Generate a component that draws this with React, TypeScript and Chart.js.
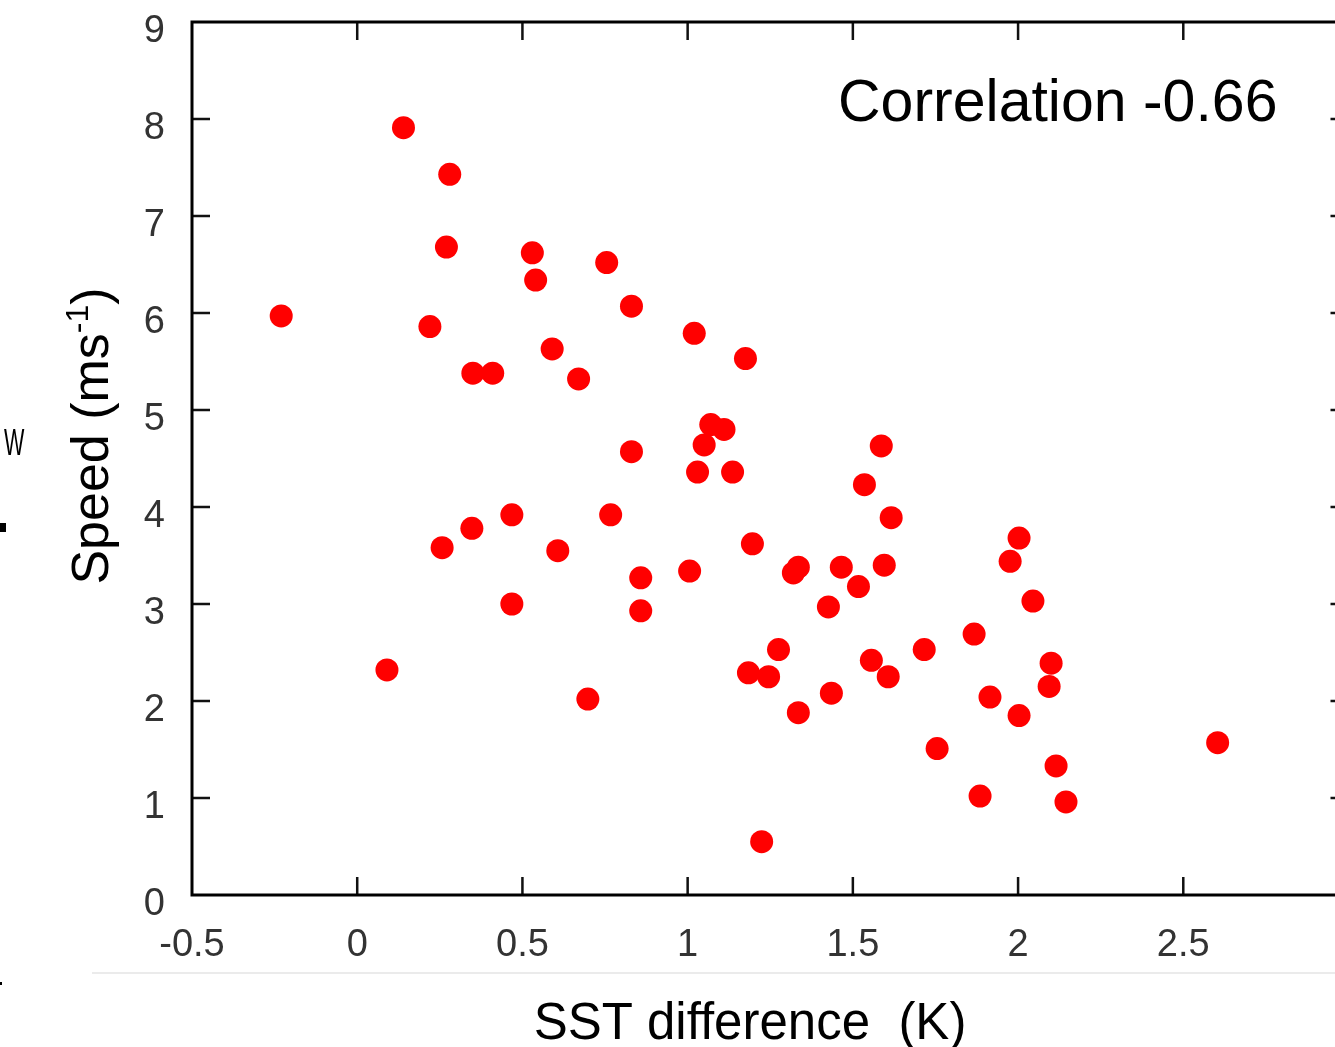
import React, { useEffect, useRef } from "react";
import { Chart, registerables } from "chart.js";

Chart.register(...registerables);

const sstDiff: number[] = [
  -0.23, 0.14, 0.28, 0.27, 0.22, 0.35, 0.41, 0.53, 0.54, 0.59, 0.67, 0.755, 0.83, 1.02, 1.175,
  0.83, 1.07, 1.11, 1.05, 1.03, 1.136, 0.257, 0.347, 0.468, 0.607, 0.767, 0.468, 0.858, 0.858,
  1.006, 1.196, 0.09, 0.698, 1.184, 1.245, 1.275, 1.32, 1.335, 1.335, 1.224, 1.426, 1.465, 1.435,
  1.517, 1.535, 1.586, 1.616, 1.595, 1.556, 1.607, 1.716, 1.755, 1.867, 1.885, 1.915, 1.976,
  2.003, 2.045, 2.003, 2.1, 2.094, 2.115, 2.145, 2.604,
];

const speed: number[] = [
  5.97, 7.91, 7.43, 6.68, 5.86, 5.38, 5.38, 6.62, 6.34, 5.63, 5.32, 6.52, 6.07, 5.79, 5.53,
  4.57, 4.85, 4.8, 4.64, 4.36, 4.36, 3.58, 3.78, 3.92, 3.55, 3.92, 3.0, 3.27, 2.93,
  3.34, 3.62, 2.32, 2.02, 2.29, 2.25, 2.53, 3.32, 3.38, 1.88, 0.55, 2.97, 3.38, 2.08,
  3.18, 4.23, 4.63, 3.89, 3.4, 2.42, 2.25, 2.53, 1.51, 2.69, 1.02, 2.04, 3.44,
  3.68, 3.03, 1.85, 2.39, 2.15, 1.33, 0.96, 1.57,
];

const xTicks: number[] = [-0.5, 0, 0.5, 1, 1.5, 2, 2.5, 3];
const yTicks: number[] = [0, 1, 2, 3, 4, 5, 6, 7, 8, 9];

const xTitle = "SST difference  (K)";
const yTitleMain = "Speed (ms";
const yTitleSup = "-1";
const yTitleEnd = ")";
const corrText = "Correlation -0.66";
const sideLetter = "W";

const FONT = "'Liberation Sans', Arial, Helvetica, sans-serif";

const framePlugin = {
  id: "framePlugin",
  afterDraw(chart: any) {
    const ctx: CanvasRenderingContext2D = chart.ctx;
    const { left, right, top, bottom } = chart.chartArea;
    const xs = chart.scales.x;
    const ys = chart.scales.y;
    ctx.save();
    // inward ticks
    ctx.strokeStyle = "#111";
    ctx.lineWidth = 2.5;
    const tl = 18;
    ctx.beginPath();
    xTicks.forEach((v) => {
      const px = xs.getPixelForValue(v);
      if (px <= left + 2 || px >= right - 2) return;
      ctx.moveTo(px, bottom);
      ctx.lineTo(px, bottom - tl);
      ctx.moveTo(px, top);
      ctx.lineTo(px, top + tl);
    });
    yTicks.forEach((v) => {
      const py = ys.getPixelForValue(v);
      if (py <= top + 2 || py >= bottom - 2) return;
      ctx.moveTo(left, py);
      ctx.lineTo(left + tl, py);
      ctx.moveTo(right, py);
      ctx.lineTo(right - tl, py);
    });
    ctx.stroke();
    // frame
    ctx.strokeStyle = "#000";
    ctx.lineWidth = 3;
    ctx.strokeRect(left, top, right - left, bottom - top);

    // light separator line
    ctx.strokeStyle = "#e4e4e4";
    ctx.lineWidth = 1.5;
    ctx.beginPath();
    ctx.moveTo(92, 973);
    ctx.lineTo(1360, 973);
    ctx.stroke();

    // correlation annotation
    ctx.fillStyle = "#000";
    ctx.textBaseline = "alphabetic";
    ctx.textAlign = "left";
    ctx.font = `59px ${FONT}`;
    ctx.fillText(corrText, 838, 121);

    // x title
    ctx.font = `51px ${FONT}`;
    ctx.textAlign = "center";
    ctx.fillText(xTitle, 750, 1039);

    // y title (rotated, with superscript)
    ctx.save();
    ctx.translate(108, 436);
    ctx.rotate(-Math.PI / 2);
    ctx.textAlign = "left";
    const mainFont = `52px ${FONT}`;
    const supFont = `32px ${FONT}`;
    ctx.font = mainFont;
    const w1 = ctx.measureText(yTitleMain).width;
    const w3 = ctx.measureText(yTitleEnd).width;
    ctx.font = supFont;
    const w2 = ctx.measureText(yTitleSup).width;
    const total = w1 + w2 + w3;
    let x0 = -total / 2;
    ctx.font = mainFont;
    ctx.fillText(yTitleMain, x0, 0);
    x0 += w1;
    ctx.font = supFont;
    ctx.fillText(yTitleSup, x0, -20);
    x0 += w2;
    ctx.font = mainFont;
    ctx.fillText(yTitleEnd, x0, 0);
    ctx.restore();

    // cropped fragments at left edge
    ctx.save();
    ctx.translate(4, 455);
    ctx.scale(0.6, 1);
    ctx.font = `36px ${FONT}`;
    ctx.textAlign = "left";
    ctx.fillText(sideLetter, 0, 0);
    ctx.restore();
    ctx.fillStyle = "#000";
    ctx.fillRect(0, 523, 6, 9);
    ctx.fillRect(0, 982, 2, 3);
    ctx.restore();
  },
};

export default function App() {
  const ref = useRef<HTMLCanvasElement | null>(null);

  useEffect(() => {
    if (!ref.current) return;
    const points = sstDiff.map((x, i) => ({ x, y: speed[i] }));
    const chart = new Chart(ref.current, {
      type: "scatter",
      data: {
        datasets: [
          {
            data: points,
            backgroundColor: "#ff0000",
            borderWidth: 0,
            pointRadius: 11.5,
            pointHoverRadius: 11.5,
          },
        ],
      },
      options: {
        responsive: false,
        animation: false,
        events: [],
        layout: { padding: { top: 22, right: 11, left: 0, bottom: 0 } },
        plugins: {
          legend: { display: false },
          tooltip: { enabled: false },
        },
        scales: {
          x: {
            type: "linear",
            min: -0.5,
            max: 3,
            grid: { display: false },
            border: { display: false },
            afterFit: (s: any) => {
              s.height = 152;
              s.paddingLeft = 0;
              s.paddingRight = 0;
              s.paddingTop = 0;
              s.paddingBottom = 0;
            },
            afterBuildTicks: (s: any) => {
              s.ticks = xTicks.map((v) => ({ value: v }));
            },
            ticks: {
              padding: 20,
              color: "#333",
              font: { family: FONT, size: 38 },
              maxRotation: 0,
              autoSkip: false,
              callback: (v: any) => (Number(v) >= 3 ? "" : String(Number(v))),
            },
          },
          y: {
            type: "linear",
            min: 0,
            max: 9,
            grid: { display: false },
            border: { display: false },
            afterFit: (s: any) => {
              s.width = 192;
              s.paddingLeft = 0;
              s.paddingRight = 0;
              s.paddingTop = 0;
              s.paddingBottom = 0;
            },
            afterBuildTicks: (s: any) => {
              s.ticks = yTicks.map((v) => ({ value: v }));
            },
            ticks: {
              padding: 19,
              labelOffset: 10,
              color: "#333",
              font: { family: FONT, size: 38 },
              autoSkip: false,
              callback: (v: any) => String(Number(v)),
            },
          },
        },
      },
      plugins: [framePlugin],
    });
    return () => chart.destroy();
  }, []);

  return (
    <div
      style={{
        position: "absolute",
        left: 0,
        top: 0,
        width: 1335,
        height: 1047,
        overflow: "hidden",
        background: "#fff",
      }}
    >
      <canvas ref={ref} width={1360} height={1047} style={{ display: "block" }} />
    </div>
  );
}
